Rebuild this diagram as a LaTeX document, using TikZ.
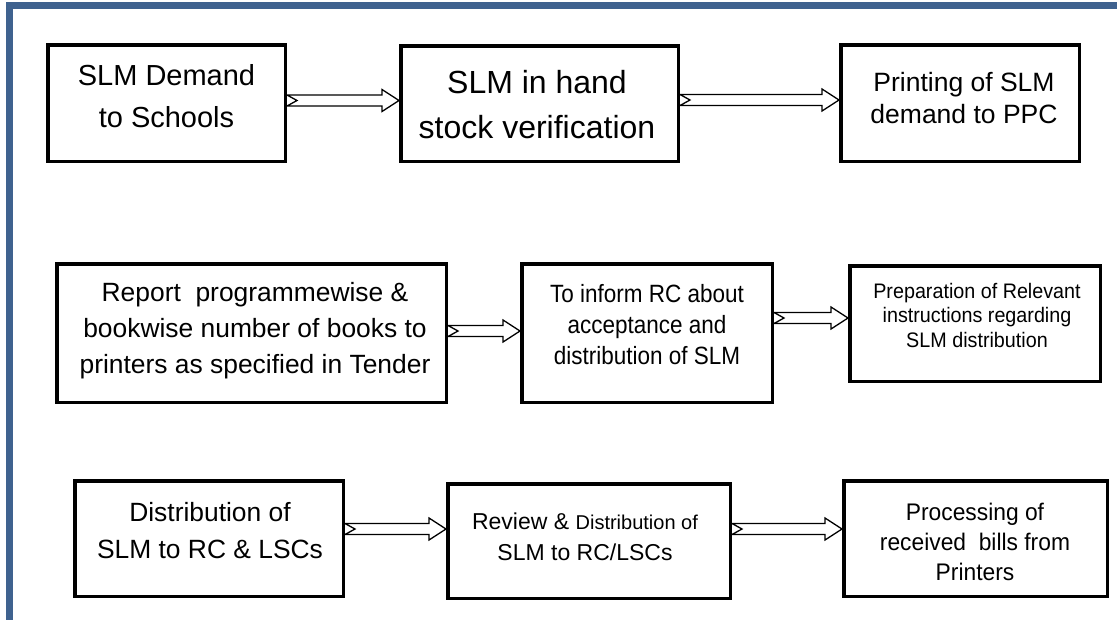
\documentclass[tikz,border=0pt]{standalone}
\usepackage{fontspec}
\setmainfont{Liberation Sans}
\newfontfamily\narrowA[FakeStretch=0.9]{Liberation Sans}
\newfontfamily\narrowB[FakeStretch=0.94]{Liberation Sans}
\newfontfamily\narrowC[FakeStretch=0.95]{Liberation Sans}
\usetikzlibrary{calc}
\definecolor{frameblue}{RGB}{63,98,143}
\tikzset{
  box/.style={draw=black, line width=3.5pt, inner sep=0pt},
  txt/.style={align=center, inner sep=0pt, text=black},
  barrow/.style={draw=black, line width=1.3pt, line join=miter},
  frameline/.style={draw=frameblue, line width=6.5pt}
}
\newcommand\blkarrow[3]{%
  \draw[barrow] ($(#1.east |- #3)+(0,5.5)$) -- ($(#2.west |- #3)+(-17,5.5)$)
    -- ($(#2.west |- #3)+(-17,11)$) -- (#2.west |- #3)
    -- ($(#2.west |- #3)+(-17,-11)$) -- ($(#2.west |- #3)+(-17,-5.5)$)
    -- ($(#1.east |- #3)+(0,-5.5)$) -- ($(#1.east |- #3)+(10,0)$) -- cycle;}
\begin{document}
\begin{tikzpicture}[x=1pt,y=-1pt]
\useasboundingbox (0,0) rectangle (1117,619);
\fill[white] (0,0) rectangle (1117,619);
\draw[frameline] (9.7,630) -- (9.7,5.5) -- (1130,5.5);

% boxes
\node[box, minimum width=237.5pt, minimum height=116.5pt] (b1) at (166.5,103) {};
\node[box, minimum width=277.5pt, minimum height=115.5pt] (b2) at (539.5,103.5) {};
\node[box, minimum width=238.5pt, minimum height=116.5pt] (b3) at (960,103) {};
\node[box, minimum width=389.5pt, minimum height=138.5pt] (b4) at (251.5,333) {};
\node[box, minimum width=250.5pt, minimum height=138.5pt] (b5) at (647,333) {};
\node[box, minimum width=250.5pt, minimum height=115.5pt] (b6) at (975,323.5) {};
\node[box, minimum width=268.5pt, minimum height=115.5pt] (b7) at (209,538.5) {};
\node[box, minimum width=282.5pt, minimum height=114.5pt] (b8) at (589,541) {};
\node[box, minimum width=263.5pt, minimum height=115.5pt] (b9) at (975.5,538.5) {};

% texts
\node[txt, font=\fontsize{29}{42}\selectfont] (t1) at (166.5,96) {SLM Demand\\to Schools};
\node[txt, font=\fontsize{32}{45}\selectfont] (t2) at (537,105) {SLM in hand\\stock verification};
\node[txt, font=\fontsize{26.5}{32}\selectfont] (t3) at (964,98) {Printing of SLM\\demand to PPC};
\node[txt, font=\fontsize{26.4}{36}\selectfont] (t4) at (255,331) {Report~ programmewise \&\\bookwise number of books to\\printers as specified in Tender};
\node[txt, font=\narrowA\fontsize{25}{31}\selectfont] (t5) at (647,325) {To inform RC about\\acceptance and\\distribution of SLM};
\node[txt, font=\narrowB\fontsize{21}{24.5}\selectfont] (t6) at (977,315) {Preparation of Relevant\\instructions regarding\\SLM distribution};
\node[txt, font=\fontsize{26.4}{37}\selectfont] (t7) at (210,531) {Distribution of\\SLM to RC \& LSCs};
\node[txt, font=\fontsize{23}{31}\selectfont] (t8) at (585,537) {Review \& {\fontsize{20}{31}\selectfont Distribution of}\\SLM to RC/LSCs};
\node[txt, font=\narrowC\fontsize{24}{30}\selectfont] (t9) at (975,541.5) {Processing of\\received~ bills from\\Printers};

% arrow levels
\coordinate (r1) at (0,100.5);
\coordinate (r2) at (0,100);
\coordinate (r3) at (0,331);
\coordinate (r4) at (0,318);
\coordinate (r5) at (0,529);
\coordinate (r6) at (0,529);

\blkarrow{b1}{b2}{r1}
\blkarrow{b2}{b3}{r2}
\blkarrow{b4}{b5}{r3}
\blkarrow{b5}{b6}{r4}
\blkarrow{b7}{b8}{r5}
\blkarrow{b8}{b9}{r6}
\end{tikzpicture}
\end{document}
